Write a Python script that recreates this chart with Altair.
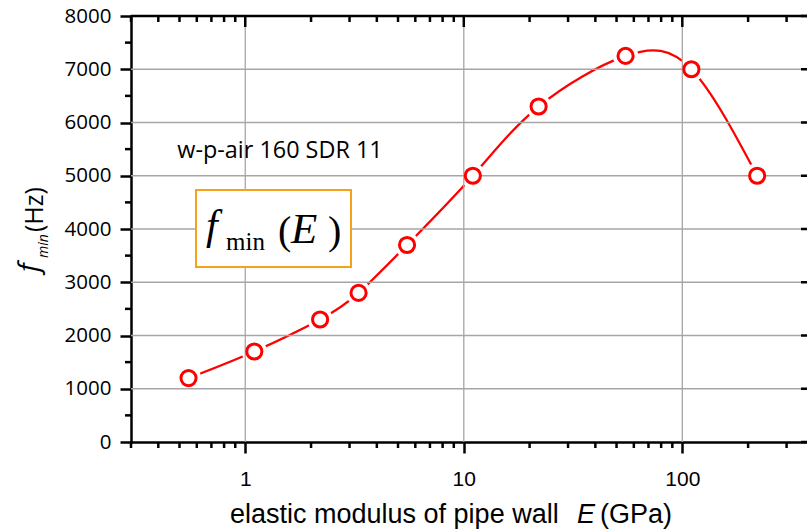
import altair as alt
import pandas as pd

# ---- data ----
E_gpa = [0.55, 1.1, 2.2, 3.3, 5.5, 11, 22, 55, 110, 220]
f_min_hz = [1200, 1700, 2300, 2800, 3700, 5000, 6300, 7250, 7000, 5000]

y_major = [0, 1000, 2000, 3000, 4000, 5000, 6000, 7000, 8000]
y_minor = [500, 1500, 2500, 3500, 4500, 5500, 6500, 7500]
y_grid = [1000, 2000, 3000, 4000, 5000, 6000, 7000]
x_major = [1, 10, 100]
x_minor = [0.3, 0.4, 0.5, 0.6, 0.7, 0.8, 0.9,
           2, 3, 4, 5, 6, 7, 8, 9,
           20, 30, 40, 50, 60, 70, 80, 90,
           200, 300]
x_grid = [1, 10, 100]

annotation_text = "w-p-air 160 SDR 11"

W, H = 676, 426
X_MIN, X_MAX = 0.3, 372

xscale = alt.Scale(type="log", domain=[X_MIN, X_MAX], nice=False)
yscale = alt.Scale(domain=[0, 8000], nice=False)

df = pd.DataFrame({"E": E_gpa, "f": f_min_hz})
one = pd.DataFrame({"a": [0]})

AXW = 2.5
BLACK = "#000000"
RED = "#ff0000"
GRID = "#a6a6a6"

x_axis = alt.Axis(values=x_major, labelExpr="format(datum.value, 'd')", tickSize=11,
                  tickWidth=AXW, domainWidth=AXW, domainColor=BLACK, tickColor=BLACK,
                  labelFont="Liberation Sans", labelFontSize=21, labelColor=BLACK,
                  labelPadding=15, grid=False, title=None, domainCap="square")
y_axis = alt.Axis(values=y_major, format="d", tickSize=11, tickWidth=AXW,
                  domainWidth=AXW, domainColor=BLACK, tickColor=BLACK,
                  labelFont="Open Sans", labelFontSize=20.5, labelColor=BLACK,
                  labelPadding=9, grid=False, title=None, domainCap="square")


def X(field):
    return alt.X(field, scale=xscale, axis=x_axis)


def Y(field):
    return alt.Y(field, scale=yscale, axis=y_axis)


line = alt.Chart(df).mark_line(color=RED, strokeWidth=2.3, interpolate="natural").encode(
    x=X("E:Q"), y=Y("f:Q"))

halo = alt.Chart(df).mark_point(shape="circle", filled=True, color="white", opacity=1,
                                size=640).encode(x=X("E:Q"), y=Y("f:Q"))

vgrid = alt.Chart(pd.DataFrame({"v": x_grid})).mark_rule(color=GRID, strokeWidth=1.3).encode(
    x=X("v:Q"))
hgrid = alt.Chart(pd.DataFrame({"v": y_grid})).mark_rule(color=GRID, strokeWidth=1.3).encode(
    y=Y("v:Q"))

points = alt.Chart(df).mark_point(shape="circle", filled=True, fill="white", stroke=RED,
                                  strokeWidth=3, opacity=1, size=230).encode(
    x=X("E:Q"), y=Y("f:Q"))

# frame: top line and extra ticks
top_line = alt.Chart(one).mark_rule(color=BLACK, strokeWidth=AXW).encode(
    x=alt.value(0), x2=alt.value(W), y=alt.value(0))
top_major = alt.Chart(pd.DataFrame({"v": x_major})).mark_rule(color=BLACK, strokeWidth=AXW).encode(
    x=X("v:Q"), y=alt.value(0), y2=alt.value(11))
top_minor = alt.Chart(pd.DataFrame({"v": x_minor})).mark_rule(color=BLACK, strokeWidth=AXW).encode(
    x=X("v:Q"), y=alt.value(0), y2=alt.value(6))
bot_minor = alt.Chart(pd.DataFrame({"v": x_minor})).mark_rule(color=BLACK, strokeWidth=AXW).encode(
    x=X("v:Q"), y=alt.value(H), y2=alt.value(H + 6))
left_minor = alt.Chart(pd.DataFrame({"v": y_minor})).mark_rule(color=BLACK, strokeWidth=AXW).encode(
    y=Y("v:Q"), x=alt.value(-6), x2=alt.value(0))
right_major = alt.Chart(pd.DataFrame({"v": y_major})).mark_rule(color=BLACK, strokeWidth=AXW).encode(
    y=Y("v:Q"), x=alt.value(W - 6), x2=alt.value(W))

# annotation box with formula
box = alt.Chart(one).mark_rect(fill="white", stroke="#f5a31a", strokeWidth=2).encode(
    x=alt.value(65), x2=alt.value(220), y=alt.value(174), y2=alt.value(251))


def txt(s, x, y, size, font, style="normal", align="left", angle=0, baseline="alphabetic"):
    kw = dict(text=s, font=font, fontSize=size, fontStyle=style, align=align,
              baseline=baseline, color=BLACK)
    if angle:
        kw["angle"] = angle
    return alt.Chart(one).mark_text(**kw).encode(x=alt.value(x), y=alt.value(y))


formula = [
    txt("f", 75, 223, 42, "Liberation Serif", "italic"),
    txt("min", 95, 234, 25, "Liberation Serif"),
    txt("(", 147, 228, 40, "Liberation Serif"),
    txt("E", 160, 227, 43, "Liberation Serif", "italic"),
    txt(")", 197, 228, 40, "Liberation Serif"),
]

label = txt(annotation_text, 149, 142, 23.4, "Open Sans", align="center")

# x title
xtitle = [
    txt("elastic modulus of pipe wall", 99, 507, 27, "Liberation Sans"),
    txt("E", 446, 507, 27, "Liberation Sans", "italic"),
    txt("(GPa)", 469, 507, 27, "Liberation Sans"),
]

# y title (rotated)
ytitle = [
    txt("f", -93, 256, 28, "Open Sans", "italic", angle=270),
    txt("min", -83, 242, 14, "Open Sans", "italic", angle=270),
    txt("(Hz)", -88, 216, 25, "Open Sans", angle=270),
]

chart = alt.layer(
    line, halo, vgrid, hgrid, points,
    top_line, top_major, top_minor, bot_minor, left_minor, right_major,
    box, *formula, label, *xtitle, *ytitle,
).properties(
    width=W, height=H,
    autosize=alt.AutoSizeParams(type="none"),
    padding={"left": 131, "top": 16, "right": 0, "bottom": 89},
    background="white",
).configure_view(stroke=None)

chart.save("out.html", embed_options={"renderer": "svg", "actions": False})
